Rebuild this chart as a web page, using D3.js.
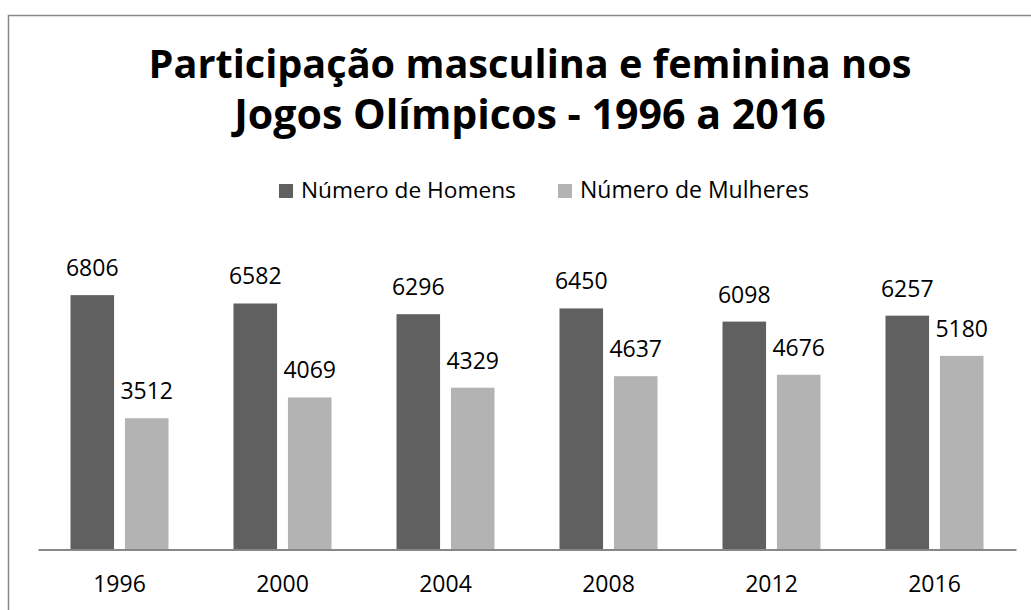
<!DOCTYPE html>
<html>
<head>
<meta charset="utf-8">
<script src="https://cdn.jsdelivr.net/npm/d3@7"></script>
<style>
  body { margin: 0; background: #fff; }
  svg { display: block; font-family: "Open Sans", Lato, sans-serif; }
</style>
</head>
<body>
<svg id="chart" width="1031" height="610"></svg>
<script>
const years = ["1996", "2000", "2004", "2008", "2012", "2016"];
const homens = [6806, 6582, 6296, 6450, 6098, 6257];
const mulheres = [3512, 4069, 4329, 4637, 4676, 5180];
const seriesNames = ["Número de Homens", "Número de Mulheres"];
const seriesColors = ["#606060", "#b3b3b3"];
const titleLines = ["Participação masculina e feminina nos", "Jogos Olímpicos - 1996 a 2016"];

let svg = d3.select("#chart");

// sets font-size so the text takes the wanted width
let fitWidth = (sel, target) => {
  sel.each(function () {
    let size = parseFloat(d3.select(this).attr("font-size"));
    let w = this.getComputedTextLength();
    d3.select(this).attr("font-size", (size * target) / w);
  });
};

// outer border of the chart area
svg.append("rect")
  .attr("x", 8.5).attr("y", 15.5)
  .attr("width", 1200).attr("height", 800)
  .attr("fill", "none")
  .attr("stroke", "#878787")
  .attr("stroke-width", 1.5);

// title
let title = svg.append("g").attr("class", "title");
let titleWidths = [763, 592];
titleLines.forEach((line, i) => {
  title.append("text")
    .attr("x", 530)
    .attr("y", 77.5 + i * 51)
    .attr("text-anchor", "middle")
    .attr("font-weight", "bold")
    .attr("font-size", 36)
    .attr("fill", "#000")
    .text(line)
    .call(fitWidth, titleWidths[i]);
});

// legend
let legendX = [279, 558];
let legendWidths = [215, 229];
let legend = svg.append("g").attr("class", "legend");
seriesNames.forEach((name, i) => {
  legend.append("rect")
    .attr("x", legendX[i]).attr("y", 184)
    .attr("width", 14).attr("height", 14)
    .attr("fill", seriesColors[i]);
  legend.append("text")
    .attr("x", legendX[i] + 22)
    .attr("y", 198)
    .attr("font-size", 22)
    .attr("fill", "#000")
    .text(name)
    .call(fitWidth, legendWidths[i]);
});

// scales
let x0 = d3.scaleBand().domain(years).range([38, 1016]).padding(0);
let x1 = d3.scaleBand().domain([0, 1]).range([32.5, 130.5]).paddingInner(0.2);
let y = d3.scaleLinear().domain([0, 8000]).range([549.5, 250.5]);

let rows = years.map((yr, i) => ({ year: yr, values: [homens[i], mulheres[i]] }));

let groups = svg.append("g")
  .selectAll("g")
  .data(rows)
  .enter()
  .append("g")
  .attr("transform", (d) => "translate(" + x0(d.year) + ",0)");

groups.selectAll("rect")
  .data((d) => d.values)
  .enter()
  .append("rect")
  .attr("x", (v, i) => x1(i))
  .attr("y", (v) => y(v))
  .attr("width", x1.bandwidth())
  .attr("height", (v) => y(0) - y(v))
  .attr("fill", (v, i) => seriesColors[i]);

let labelSize = 23;

groups.selectAll("text.value")
  .data((d) => d.values)
  .enter()
  .append("text")
  .attr("class", "value")
  .attr("x", (v, i) => x1(i) + x1.bandwidth() / 2)
  .attr("y", (v) => y(v) - 19)
  .attr("text-anchor", "middle")
  .attr("font-size", labelSize)
  .attr("fill", "#000")
  .text((v) => v);

// x axis
let xAxis = svg.append("g")
  .attr("transform", "translate(0," + y(0) + ")")
  .call(d3.axisBottom(x0).tickSize(0).tickSizeOuter(0).tickPadding(0));

xAxis.select(".domain")
  .attr("stroke", "#878787")
  .attr("stroke-width", 2);

xAxis.selectAll(".tick text")
  .attr("dy", null)
  .attr("y", 42)
  .attr("font-size", labelSize)
  .attr("font-family", "'Open Sans', Lato, sans-serif")
  .attr("fill", "#000");
</script>
</body>
</html>
